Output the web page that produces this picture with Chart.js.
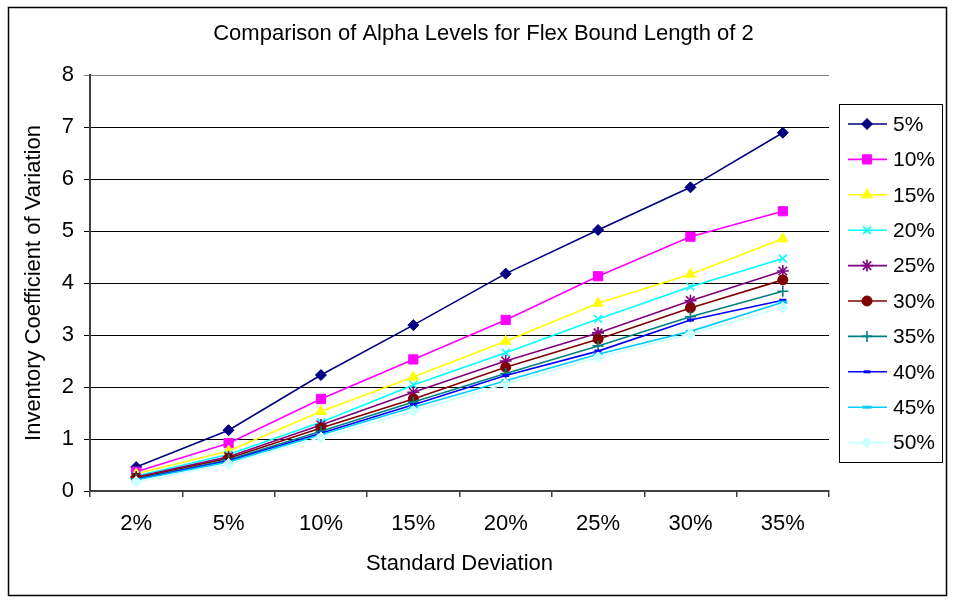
<!DOCTYPE html>
<html>
<head>
<meta charset="utf-8">
<title>Comparison of Alpha Levels for Flex Bound Length of 2</title>
<script src="https://cdn.jsdelivr.net/npm/chart.js@4.4.1/dist/chart.umd.min.js"></script>
<style>
  html, body { margin: 0; padding: 0; background: #ffffff; }
  #chart { display: block; }
</style>
</head>
<body>
<canvas id="chart" width="955" height="602"></canvas>
<script>
// Standard deviation categories along the x axis
const categories = ['2%', '5%', '10%', '15%', '20%', '25%', '30%', '35%'];

// Inventory coefficient of variation, one array per alpha level
const alpha05 = [0.46, 1.17, 2.23, 3.19, 4.18, 5.02, 5.84, 6.89];
const alpha10 = [0.37, 0.92, 1.77, 2.53, 3.29, 4.13, 4.89, 5.38];
const alpha15 = [0.33, 0.77, 1.53, 2.19, 2.88, 3.61, 4.17, 4.85];
const alpha20 = [0.29, 0.70, 1.32, 2.04, 2.66, 3.31, 3.93, 4.47];
const alpha25 = [0.27, 0.66, 1.27, 1.90, 2.50, 3.04, 3.66, 4.23];
const alpha30 = [0.25, 0.63, 1.21, 1.77, 2.38, 2.92, 3.52, 4.06];
const alpha35 = [0.23, 0.60, 1.15, 1.71, 2.26, 2.79, 3.35, 3.84];
const alpha40 = [0.22, 0.58, 1.11, 1.66, 2.22, 2.69, 3.29, 3.67];
const alpha45 = [0.21, 0.56, 1.08, 1.61, 2.12, 2.63, 3.07, 3.63];
const alpha50 = [0.18, 0.52, 1.03, 1.54, 2.06, 2.57, 3.02, 3.53];

const seriesLabels = ['5%', '10%', '15%', '20%', '25%', '30%', '35%', '40%', '45%', '50%'];
const seriesValues = [alpha05, alpha10, alpha15, alpha20, alpha25, alpha30, alpha35, alpha40, alpha45, alpha50];

// y axis tick values
const yTicks = [0, 1, 2, 3, 4, 5, 6, 7, 8];

const FONT = '"Liberation Sans", Arial, sans-serif';

// line colour, marker shape and marker size per series
const seriesStyles = [
  { color: '#000080', shape: 'rectRot',  radius: 5.5, bw: 1 },
  { color: '#FF00FF', shape: 'rect',     radius: 6.5, bw: 1 },
  { color: '#FFFF00', shape: 'triangle', radius: 6,   bw: 1 },
  { color: '#00FFFF', shape: 'crossRot', radius: 5.5, bw: 1.6 },
  { color: '#800080', shape: 'star',     radius: 6,   bw: 1.6 },
  { color: '#800000', shape: 'circle',   radius: 5,   bw: 1 },
  { color: '#008080', shape: 'cross',    radius: 5.5, bw: 1.6 },
  { color: '#0000FF', shape: 'line',     radius: 3.5, bw: 3 },
  { color: '#00CCFF', shape: 'line',     radius: 4.5, bw: 3 },
  { color: '#CCFFFF', shape: 'rectRot',  radius: 5.5, bw: 1 }
];

const datasets = seriesLabels.map((label, i) => {
  const s = seriesStyles[i];
  return {
    label: label,
    data: seriesValues[i],
    yAxisID: 'y',
    borderColor: s.color,
    backgroundColor: s.color,
    borderWidth: 1.6,
    pointStyle: s.shape,
    pointRadius: s.radius,
    pointHoverRadius: s.radius,
    pointBorderWidth: s.bw,
    pointBackgroundColor: s.color,
    pointBorderColor: s.color,
    tension: 0,
    order: seriesLabels.length - i
  };
});

// white page with a thin black frame around the whole chart
const framePlugin = {
  id: 'frame',
  beforeDraw(chart) {
    const ctx = chart.ctx;
    ctx.save();
    ctx.fillStyle = '#ffffff';
    ctx.fillRect(0, 0, chart.width, chart.height);
    ctx.strokeStyle = '#000000';
    ctx.lineWidth = 1.5;
    ctx.strokeRect(8.5, 7.5, chart.width - 17, chart.height - 14);
    ctx.restore();
  }
};

// boxed legend to the right of the plot, each entry drawn as line + marker
const boxLegendPlugin = {
  id: 'boxLegend',
  afterDraw(chart) {
    const ctx = chart.ctx;
    const area = chart.chartArea;
    const left = area.right + 10;
    const top = 104;
    const width = 103;
    const rowH = 35.4;
    const height = rowH * chart.data.datasets.length + 4;
    ctx.save();
    ctx.strokeStyle = '#000000';
    ctx.lineWidth = 1;
    ctx.strokeRect(left + 0.5, top + 0.5, width, height);
    chart.data.datasets.forEach((ds, i) => {
      const y = top + 20 + i * rowH;
      ctx.strokeStyle = ds.borderColor;
      ctx.lineWidth = ds.borderWidth;
      ctx.beginPath();
      ctx.moveTo(left + 9, y);
      ctx.lineTo(left + 48, y);
      ctx.stroke();
      ctx.fillStyle = ds.pointBackgroundColor;
      ctx.strokeStyle = ds.pointBorderColor;
      ctx.lineWidth = ds.pointBorderWidth;
      Chart.helpers.drawPoint(ctx, {
        pointStyle: ds.pointStyle,
        radius: ds.pointRadius,
        rotation: 0,
        borderWidth: ds.pointBorderWidth
      }, left + 28, y);
      ctx.fillStyle = '#000000';
      ctx.font = '21px ' + FONT;
      ctx.textAlign = 'left';
      ctx.textBaseline = 'middle';
      ctx.fillText(ds.label, left + 54, y + 1);
    });
    ctx.restore();
  }
};

new Chart(document.getElementById('chart'), {
  type: 'line',
  data: { labels: categories, datasets: datasets },
  options: {
    responsive: false,
    animation: false,
    events: [],
    layout: { padding: { top: 8, left: 12, right: 0, bottom: 6 } },
    plugins: {
      legend: { display: false },
      tooltip: { enabled: false },
      title: {
        display: true,
        text: 'Comparison of Alpha Levels for Flex Bound Length of 2',
        color: '#000000',
        font: { family: FONT, size: 22, weight: 'normal' },
        padding: { top: 13, bottom: 27.6 }
      }
    },
    scales: {
      x: {
        type: 'category',
        offset: true,
        grid: {
          offset: true,
          drawOnChartArea: false,
          drawTicks: true,
          tickLength: 6,
          color: '#404040',
          lineWidth: 1.5
        },
        border: { display: true, color: '#404040', width: 2 },
        ticks: {
          color: '#000000',
          font: { family: FONT, size: 22 },
          padding: 14,
          maxRotation: 0
        },
        title: {
          display: true,
          text: 'Standard Deviation',
          color: '#000000',
          font: { family: FONT, size: 22 },
          padding: { top: 0, bottom: 19 }
        },
        afterFit(scale) { scale.height = 105; }
      },
      y: {
        position: 'left',
        min: yTicks[0],
        max: yTicks[yTicks.length - 1],
        afterBuildTicks(scale) { scale.ticks = yTicks.map(v => ({ value: v })); },
        grid: {
          drawTicks: true,
          tickLength: 6,
          color: ctx => (ctx.tick && ctx.tick.value === yTicks[yTicks.length - 1]) ? '#808080' : '#000000',
          lineWidth: 1
        },
        border: { display: true, color: '#404040', width: 2 },
        ticks: {
          color: '#000000',
          font: { family: FONT, size: 22 },
          padding: 10
        },
        title: {
          display: true,
          text: 'Inventory Coefficient of Variation',
          color: '#000000',
          font: { family: FONT, size: 22 },
          padding: { top: 9, bottom: 0 }
        },
        afterFit(scale) { scale.width = 78; }
      },
      // empty right-hand axis that reserves the strip where the legend sits
      legendSpace: {
        type: 'linear',
        position: 'right',
        grid: { display: false, drawTicks: false },
        border: { display: false },
        ticks: { display: false },
        afterFit(scale) { scale.width = 126; }
      }
    }
  },
  plugins: [framePlugin, boxLegendPlugin]
});
</script>
</body>
</html>
